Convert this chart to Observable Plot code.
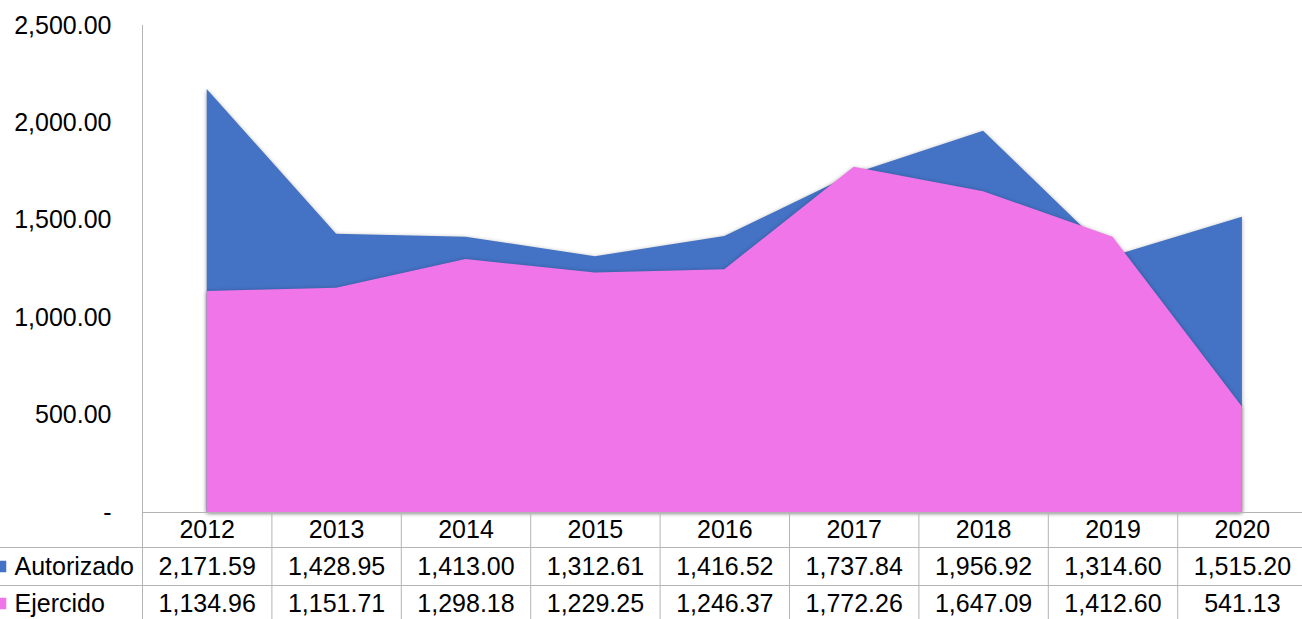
<!DOCTYPE html>
<html>
<head>
<meta charset="utf-8">
<script src="https://cdn.jsdelivr.net/npm/d3@7"></script>
<script src="https://cdn.jsdelivr.net/npm/@observablehq/plot@0.6"></script>
<style>
  html, body { margin: 0; padding: 0; background: #fff; }
  #chart svg { display: block; font-family: "Liberation Sans", Arial, sans-serif; }
</style>
</head>
<body>
<div id="chart"></div>
<script>
const years = [2012, 2013, 2014, 2015, 2016, 2017, 2018, 2019, 2020];
const autorizado = [2171.59, 1428.95, 1413.00, 1312.61, 1416.52, 1737.84, 1956.92, 1314.60, 1515.20];
const ejercido = [1134.96, 1151.71, 1298.18, 1229.25, 1246.37, 1772.26, 1647.09, 1412.60, 541.13];
const seriesNames = ["Autorizado", "Ejercido"];
const seriesColors = ["#4472C4", "#F075E8"];
const yTicks = [0, 500, 1000, 1500, 2000, 2500];

const data = years.map((year, i) => ({year, autorizado: autorizado[i], ejercido: ejercido[i]}));
const bounds = years.slice(0, -1).map(y => y + 0.5);
const fmt = d3.format(",.2f");
const grid = "#b4b4b4";
const fs = 25;

const chart = Plot.plot({
  width: 1302,
  height: 619,
  marginTop: 25,
  marginBottom: 107,
  marginLeft: 142,
  marginRight: 0,
  style: {fontFamily: '"Liberation Sans", Arial, sans-serif', fontSize: fs + "px", color: "#000", background: "#fff"},
  x: {domain: [years[0] - 0.5, years[years.length - 1] + 0.5], range: [142, 142 + 9 * 129.4], axis: null},
  y: {domain: [0, 2500], axis: null},
  marks: [
    Plot.areaY(data, {x: "year", y: "autorizado", fill: seriesColors[0]}),
    Plot.areaY(data, {x: "year", y: "ejercido", fill: seriesColors[1]}),
    // y axis labels
    Plot.text(yTicks, {y: d => d, frameAnchor: "left", dx: -31, textAnchor: "end", lineAnchor: "middle", text: d => d === 0 ? "-" : fmt(d), fontSize: fs, fill: "#000"}),
    // axis line and table lines
    Plot.ruleX([years[0] - 0.5], {stroke: grid, insetBottom: -107}),
    Plot.ruleX(bounds, {x: d => d, stroke: grid, insetTop: 487, insetBottom: -107}),
    Plot.ruleY([0], {stroke: grid}),
    Plot.ruleY([0], {stroke: grid, dy: 35, insetLeft: -142}),
    Plot.ruleY([0], {stroke: grid, dy: 73, insetLeft: -142}),
    // table contents
    Plot.text(years, {x: d => d, frameAnchor: "bottom", lineAnchor: "middle", dy: 17, text: d => String(d), fontSize: fs, fill: "#000"}),
    Plot.text(data, {x: "year", frameAnchor: "bottom", lineAnchor: "middle", dy: 54, text: d => fmt(d.autorizado), fontSize: fs, fill: "#000"}),
    Plot.text(data, {x: "year", frameAnchor: "bottom", lineAnchor: "middle", dy: 91, text: d => fmt(d.ejercido), fontSize: fs, fill: "#000"}),
    // legend
    Plot.text([seriesNames[0]], {frameAnchor: "bottom-left", lineAnchor: "middle", dx: -128, dy: 54, textAnchor: "start", text: d => d, fontSize: fs, fill: "#000"}),
    Plot.text([seriesNames[1]], {frameAnchor: "bottom-left", lineAnchor: "middle", dx: -128, dy: 91, textAnchor: "start", text: d => d, fontSize: fs, fill: "#000"}),
    Plot.dot([seriesNames[0]], {frameAnchor: "bottom-left", dx: -142, dy: 54, symbol: "square", r: 6.5, fill: seriesColors[0], stroke: null}),
    Plot.dot([seriesNames[1]], {frameAnchor: "bottom-left", dx: -142, dy: 91, symbol: "square", r: 6.5, fill: seriesColors[1], stroke: null})
  ]
});
d3.select(chart).selectAll("g[aria-label='area'] path").style("filter", "drop-shadow(0px 1px 2px rgba(0,0,0,0.35))");
document.getElementById("chart").appendChild(chart);
</script>
</body>
</html>
